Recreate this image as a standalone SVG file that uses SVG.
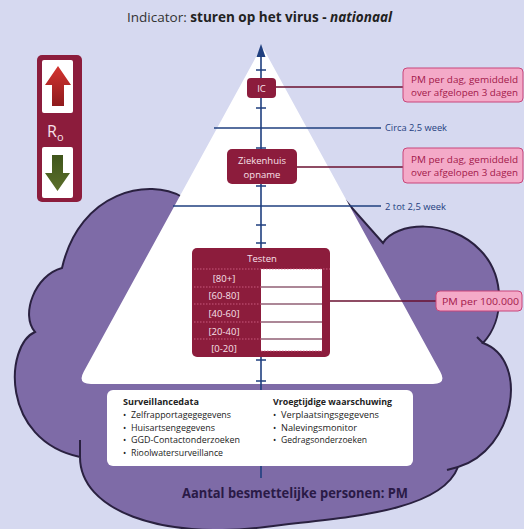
<svg xmlns="http://www.w3.org/2000/svg" width="524" height="529" viewBox="0 0 524 529">
<defs>
<style>
text{font-family:"Open Sans","Noto Sans","Liberation Sans",sans-serif;}
.red{fill:#8c1c3c;}
.pm{fill:#f4aac8;stroke:#c8457a;stroke-width:1;}
.pmt{fill:#a3184a;font-size:9.5px;}
.wt{fill:#f8e1ea;font-size:9.5px;text-anchor:middle;}
.ax{stroke:#1f3f7f;stroke-width:1.6;fill:none;}
.lnk{stroke:#6a1030;stroke-width:1.4;fill:none;}
.bt{fill:#1f3f7f;font-size:9.5px;}
.it{fill:#222;font-size:8.6px;}
.ih{fill:#222;font-size:8.8px;font-weight:700;}
.cl{stroke:#2a2140;stroke-width:2;fill:none;}
</style>
<linearGradient id="gu" x1="0" y1="0" x2="0" y2="1"><stop offset="0" stop-color="#d4342f"/><stop offset="1" stop-color="#8e1a1c"/></linearGradient>
<linearGradient id="gd" x1="0" y1="0" x2="0" y2="1"><stop offset="0" stop-color="#3f551b"/><stop offset="1" stop-color="#5b6f2a"/></linearGradient>
</defs>
<rect width="524" height="529" fill="#d6d9f0"/>
<text x="127" y="22" font-size="13.5" fill="#333" textLength="265" lengthAdjust="spacingAndGlyphs">Indicator: <tspan font-weight="700" fill="#222">sturen op het virus - </tspan><tspan font-weight="700" font-style="italic" fill="#222">nationaal</tspan></text>
<g id="cloud">
<path d="M262 205 L182 197 C150 178 80 190 62 268 C35 275 20 315 35 332 C5 345 0 440 80 457 C80 510 160 540 265 527 C330 518 440 515 458 467 C515 450 530 360 483 343 C505 320 505 275 480 250 C450 218 395 222 383 243 L345 200 Z" fill="#7e6ba7" stroke="#2a2140" stroke-width="2"/>
<path class="cl" d="M80 440 L80 457 M483 343 L477 337 M458 467 L447 470"/>
</g>
<g id="pyramid">
<path d="M259.1 51.3 Q262 46 264.9 51.3 L440.3 371.7 Q447 384 433 384 L91 384 Q77 384 83.7 371.7 Z" fill="#ffffff"/>
</g>
<g id="connectors">
<line class="ax" x1="261" y1="54" x2="261" y2="478"/>
<path d="M261 44 L265.5 57 L256.5 57 Z" fill="#1f3f7f"/>
<path class="ax" d="M256 70H266M256 108H266M256 148H266M256 186H266M256 225H266M256 243H266M256 360H266M256 381H266"/>
<line class="ax" x1="214" y1="128" x2="381" y2="128" stroke-width="1.3"/>
<line class="ax" x1="173" y1="206" x2="381" y2="206" stroke-width="1.3"/>
<line class="lnk" x1="276" y1="87" x2="403" y2="87"/>
<line class="lnk" x1="297" y1="167" x2="403" y2="167"/>
<line class="lnk" x1="330" y1="301" x2="436" y2="301"/>
</g>
<g id="label-circa">
<text class="bt" x="385" y="131" textLength="62" lengthAdjust="spacingAndGlyphs">Circa 2,5 week</text>
</g>
<g id="label-2tot">
<text class="bt" x="385" y="209.5" textLength="61" lengthAdjust="spacingAndGlyphs">2 tot 2,5 week</text>
</g>
<g id="node-ic">
<rect class="red" x="247" y="78" width="29" height="20" rx="4"/>
<text class="wt" x="261.5" y="91.5" font-size="9">IC</text>
</g>
<g id="node-ziekenhuis">
<rect class="red" x="227" y="149" width="70" height="35" rx="5"/>
<text class="wt" x="262" y="163.5">Ziekenhuis</text>
<text class="wt" x="262" y="177.5">opname</text>
</g>
<g id="node-testen">
<rect class="red" x="192" y="248" width="138" height="109" rx="5"/>
<rect x="261" y="269" width="61" height="82" fill="#ffffff"/>
<path d="M261 287H322M261 304H322M261 322H322M261 339H322" stroke="#5a1030" stroke-width="1.2"/>
<path d="M194 269H330M194 287H261M194 304H261M194 322H261M194 339H261M261 351H322" stroke="#d86a8e" stroke-width="0.8" stroke-dasharray="1.5 1.5"/>
<text class="wt" x="262" y="261.5" font-size="9">Testen</text>
<text class="wt" x="224" y="281.5">[80+]</text>
<text class="wt" x="224" y="299">[60-80]</text>
<text class="wt" x="224" y="317">[40-60]</text>
<text class="wt" x="224" y="334.5">[20-40]</text>
<text class="wt" x="224" y="351.5">[0-20]</text>
</g>
<g id="pm-ic">
<rect class="pm" x="403" y="68" width="120" height="34" rx="4"/>
<text class="pmt" x="411" y="82.5" textLength="107" lengthAdjust="spacingAndGlyphs">PM per dag, gemiddeld</text>
<text class="pmt" x="411" y="95.5" textLength="107" lengthAdjust="spacingAndGlyphs">over afgelopen 3 dagen</text>
</g>
<g id="pm-zh">
<rect class="pm" x="403" y="148" width="120" height="35" rx="4"/>
<text class="pmt" x="411" y="162.5" textLength="107" lengthAdjust="spacingAndGlyphs">PM per dag, gemiddeld</text>
<text class="pmt" x="411" y="175.5" textLength="107" lengthAdjust="spacingAndGlyphs">over afgelopen 3 dagen</text>
</g>
<g id="pm-test">
<rect class="pm" x="436" y="291" width="86" height="20" rx="4"/>
<text class="pmt" x="442" y="304.5" textLength="77" lengthAdjust="spacingAndGlyphs">PM per 100.000</text>
</g>
<g id="r0">
<rect class="red" x="37" y="55" width="45" height="147" rx="5"/>
<rect x="42" y="60" width="31" height="53" rx="2" fill="#ffffff"/>
<rect x="42" y="147" width="31" height="51" rx="2" fill="#ffffff"/>
<path d="M58 66 L71 85 L64 85 L64 106 L52 106 L52 85 L45 85 Z" fill="url(#gu)"/>
<path d="M52 155 L63 155 L63 173 L70 173 L57.5 191 L45 173 L52 173 Z" fill="url(#gd)"/>
<text x="47" y="137" font-size="16" fill="#f8e1ea">R<tspan font-size="11" dy="4">o</tspan></text>
</g>
<g id="info">
<rect x="107" y="390" width="306" height="76" rx="6" fill="#ffffff"/>
<text class="ih" x="123" y="405" textLength="76" lengthAdjust="spacingAndGlyphs">Surveillancedata</text>
<text class="it" x="123" y="418">•</text><text class="it" x="131" y="418" textLength="100" lengthAdjust="spacingAndGlyphs">Zelfrapportagegegevens</text>
<text class="it" x="123" y="430.5">•</text><text class="it" x="131" y="430.5" textLength="84" lengthAdjust="spacingAndGlyphs">Huisartsengegevens</text>
<text class="it" x="123" y="443">•</text><text class="it" x="131" y="443" textLength="109" lengthAdjust="spacingAndGlyphs">GGD-Contactonderzoeken</text>
<text class="it" x="123" y="456">•</text><text class="it" x="131" y="456" textLength="92" lengthAdjust="spacingAndGlyphs">Rioolwatersurveillance</text>
<text class="ih" x="273" y="405" textLength="119" lengthAdjust="spacingAndGlyphs">Vroegtijdige waarschuwing</text>
<text class="it" x="273" y="418">•</text><text class="it" x="281" y="418" textLength="98" lengthAdjust="spacingAndGlyphs">Verplaatsingsgegevens</text>
<text class="it" x="273" y="430.5">•</text><text class="it" x="281" y="430.5" textLength="76" lengthAdjust="spacingAndGlyphs">Nalevingsmonitor</text>
<text class="it" x="273" y="443">•</text><text class="it" x="281" y="443" textLength="86" lengthAdjust="spacingAndGlyphs">Gedragsonderzoeken</text>
</g>
<g id="label-aantal">
<text x="182" y="498" font-size="15" font-weight="700" fill="#2a1a46" textLength="226" lengthAdjust="spacingAndGlyphs">Aantal besmettelijke personen: PM</text>
</g>
</svg>
